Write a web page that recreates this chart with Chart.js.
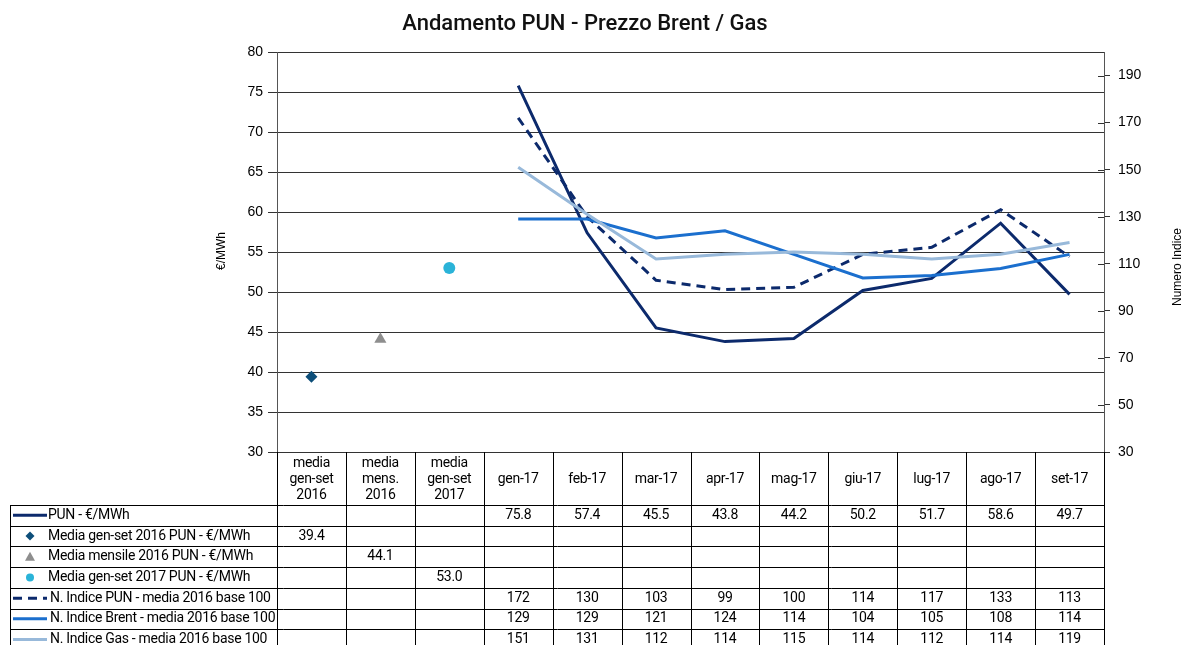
<!DOCTYPE html>
<html>
<head>
<meta charset="utf-8">
<script src="https://cdn.jsdelivr.net/npm/chart.js@4.4.1/dist/chart.umd.min.js"></script>
<style>
  html, body { margin: 0; padding: 0; background: #fff; }
  #c { display: block; }
</style>
</head>
<body>
<canvas id="c" width="1188" height="645"></canvas>
<script>
// ---- Data ----
const categories = [
  ["media", "gen-set", "2016"],
  ["media", "mens.", "2016"],
  ["media", "gen-set", "2017"],
  "gen-17", "feb-17", "mar-17", "apr-17", "mag-17", "giu-17", "lug-17", "ago-17", "set-17"
];
const punEur      = [null, null, null, 75.8, 57.4, 45.5, 43.8, 44.2, 50.2, 51.7, 58.6, 49.7];
const mediaGenSet2016 = [39.4, null, null, null, null, null, null, null, null, null, null, null];
const mediaMens2016   = [null, 44.1, null, null, null, null, null, null, null, null, null, null];
const mediaGenSet2017 = [null, null, 53.0, null, null, null, null, null, null, null, null, null];
const idxPun   = [null, null, null, 172, 130, 103, 99, 100, 114, 117, 133, 113];
const idxBrent = [null, null, null, 129, 129, 121, 124, 114, 104, 105, 108, 114];
const idxGas   = [null, null, null, 151, 131, 112, 114, 115, 114, 112, 114, 119];
const seriesNames = [
  "PUN - €/MWh",
  "Media gen-set 2016 PUN - €/MWh",
  "Media mensile 2016 PUN - €/MWh",
  "Media gen-set 2017 PUN - €/MWh",
  "N. Indice PUN - media 2016 base 100",
  "N. Indice Brent - media 2016 base 100",
  "N. Indice Gas - media 2016 base 100"
];
const leftTicks = { min: 30, max: 80, step: 5 };
const rightRange = { min: 30, max: 200 };
const rightTickValues = [30, 50, 70, 90, 110, 130, 150, 170, 190];
const titleText = "Andamento PUN - Prezzo Brent / Gas";
const leftAxisTitle = "€/MWh";
const rightAxisTitle = "Numero Indice";

// ---- Styles ----
const NAVY = "#0c2a6c";
const BRENT = "#1b6fce";
const GAS = "#98b9da";
const DIAMOND = "#0d4e79";
const TRI = "#8e8e8e";
const CIRC = "#2ab3d8";

const seriesStyle = [
  { kind: "line", color: NAVY, dash: [] , decimals: 1},
  { kind: "marker", style: "rectRot", color: DIAMOND, decimals: 1 },
  { kind: "marker", style: "triangle", color: TRI, decimals: 1 },
  { kind: "marker", style: "circle", color: CIRC, decimals: 1 },
  { kind: "line", color: NAVY, dash: [9, 6], decimals: 0 },
  { kind: "line", color: BRENT, dash: [], decimals: 0 },
  { kind: "line", color: GAS, dash: [], decimals: 0 }
];
const seriesData = [punEur, mediaGenSet2016, mediaMens2016, mediaGenSet2017, idxPun, idxBrent, idxGas];

const TABLE_FONT = "14px Roboto";
const TABLE_LEFT = 10;
const HEADER_BOTTOM = 505;
const ROW_H = 20.7;

const tablePlugin = {
  id: "tablePlugin",
  afterDraw(chart) {
    const ctx = chart.ctx;
    const ca = chart.chartArea;
    const n = categories.length;
    const colW = (ca.right - ca.left) / n;
    const bounds = [];
    for (let i = 0; i <= n; i++) bounds.push(ca.left + i * colW);
    const centers = categories.map((_, i) => chart.scales.x.getPixelForValue(i));
    ctx.save();

    // Title
    ctx.fillStyle = "#111";
    ctx.font = "500 22px Roboto";
    ctx.textAlign = "center";
    ctx.textBaseline = "middle";
    ctx.fillText(titleText, 585, 24);

    // Axis titles
    ctx.font = "12px 'Liberation Sans'";
    ctx.fillStyle = "#000";
    ctx.save();
    ctx.translate(222, 251);
    ctx.rotate(-Math.PI / 2);
    ctx.fillText(leftAxisTitle, 0, 0);
    ctx.restore();
    ctx.font = "12px 'Liberation Sans'";
    ctx.save();
    ctx.translate(1178, 267);
    ctx.rotate(-Math.PI / 2);
    ctx.fillText(rightAxisTitle, 0, 0);
    ctx.restore();

    // Right axis inner tick halves
    const y1 = chart.scales.y1;
    ctx.strokeStyle = "#333";
    ctx.lineWidth = 1;
    y1.ticks.forEach(t => {
      const y = Math.round(y1.getPixelForValue(t.value)) + 0.5;
      ctx.beginPath();
      ctx.moveTo(ca.right - 6, y);
      ctx.lineTo(ca.right, y);
      ctx.stroke();
    });

    // Table lines
    ctx.strokeStyle = "#000";
    ctx.lineWidth = 1;
    const rows = seriesNames.length;
    const rowTops = [];
    for (let r = 0; r <= rows; r++) rowTops.push(HEADER_BOTTOM + r * ROW_H);
    const tableBottom = rowTops[rows];
    ctx.beginPath();
    bounds.forEach(x => {
      const xx = Math.round(x) + 0.5;
      ctx.moveTo(xx, ca.bottom);
      ctx.lineTo(xx, tableBottom);
    });
    ctx.moveTo(TABLE_LEFT + 0.5, HEADER_BOTTOM);
    ctx.lineTo(TABLE_LEFT + 0.5, tableBottom);
    rowTops.forEach(y => {
      const yy = Math.round(y) + 0.5;
      ctx.moveTo(TABLE_LEFT, yy);
      ctx.lineTo(Math.round(ca.right) + 1, yy);
    });
    ctx.stroke();

    // Header labels
    ctx.fillStyle = "#000";
    ctx.font = TABLE_FONT;
    ctx.letterSpacing = "-0.3px";
    ctx.textAlign = "center";
    ctx.textBaseline = "middle";
    const headerMid = (ca.bottom + HEADER_BOTTOM) / 2 + 1;
    categories.forEach((c, i) => {
      if (Array.isArray(c)) {
        const lh = 15.8;
        c.forEach((line, k) => {
          ctx.fillText(line, centers[i], headerMid + (k - (c.length - 1) / 2) * lh);
        });
      } else {
        ctx.fillText(c, centers[i], headerMid);
      }
    });

    // Rows
    seriesNames.forEach((name, r) => {
      const cy = rowTops[r] + ROW_H / 2;
      const st = seriesStyle[r];
      ctx.save();
      if (st.kind === "line") {
        ctx.strokeStyle = st.color;
        ctx.lineWidth = 3;
        ctx.setLineDash(st.dash);
        ctx.beginPath();
        ctx.moveTo(13, cy);
        ctx.lineTo(47, cy);
        ctx.stroke();
      } else {
        ctx.fillStyle = st.color;
        const x = 30;
        ctx.beginPath();
        if (st.style === "rectRot") {
          ctx.moveTo(x, cy - 4.5); ctx.lineTo(x + 4.5, cy); ctx.lineTo(x, cy + 4.5); ctx.lineTo(x - 4.5, cy);
        } else if (st.style === "triangle") {
          ctx.moveTo(x, cy - 5); ctx.lineTo(x + 5, cy + 4); ctx.lineTo(x - 5, cy + 4);
        } else {
          ctx.arc(x, cy, 4, 0, Math.PI * 2);
        }
        ctx.closePath();
        ctx.fill();
      }
      ctx.restore();
      ctx.fillStyle = "#000";
      ctx.font = TABLE_FONT;
      ctx.letterSpacing = "-0.3px";
      ctx.textAlign = "left";
      ctx.fillText(name, st.kind === "line" && r >= 4 ? 50 : 48, cy);
      ctx.textAlign = "center";
      seriesData[r].forEach((v, i) => {
        if (v === null || v === undefined) return;
        ctx.fillText(v.toFixed(st.decimals), centers[i], cy);
      });
    });
    ctx.restore();
  }
};

const datasets = seriesNames.map((name, i) => {
  const st = seriesStyle[i];
  const ds = {
    label: name,
    data: seriesData[i],
    yAxisID: i >= 4 ? "y1" : "y",
    order: 10 - i,
    borderColor: st.color,
    backgroundColor: st.color
  };
  if (st.kind === "line") {
    Object.assign(ds, { borderWidth: 3, borderDash: st.dash, pointRadius: 0, tension: 0, spanGaps: false, fill: false });
  } else {
    Object.assign(ds, { showLine: false, pointStyle: st.style, pointRadius: st.style === "triangle" ? 7 : 6, pointBorderWidth: 0 });
  }
  return ds;
});

new Chart(document.getElementById("c"), {
  type: "line",
  data: { labels: categories, datasets },
  options: {
    responsive: false,
    animation: false,
    devicePixelRatio: 1,
    layout: { padding: { top: 52, left: 0, right: 0, bottom: 0 } },
    plugins: { legend: { display: false }, title: { display: false }, tooltip: { enabled: false } },
    events: [],
    scales: {
      x: {
        type: "category",
        offset: true,
        ticks: { display: false },
        grid: { display: false },
        border: { display: false },
        afterFit: s => { s.height = 193; }
      },
      y: {
        position: "left",
        min: leftTicks.min, max: leftTicks.max,
        ticks: { stepSize: leftTicks.step, color: "#000", font: { family: "'Liberation Sans'", size: 14 }, padding: 5 },
        grid: { color: "#333", lineWidth: 1, tickLength: 9 },
        border: { color: "#555", width: 1 },
        afterFit: s => { s.width = 277; }
      },
      y1: {
        position: "right",
        min: rightRange.min, max: rightRange.max,
        ticks: { color: "#000", font: { family: "'Liberation Sans'", size: 14 }, padding: 8 },
        afterBuildTicks: s => { s.ticks = rightTickValues.map(v => ({ value: v })); },
        grid: { drawOnChartArea: false, color: "#333", lineWidth: 1, tickLength: 6 },
        border: { color: "#555", width: 1 },
        afterFit: s => { s.width = 84; }
      }
    }
  },
  plugins: [tablePlugin]
});
</script>
</body>
</html>
